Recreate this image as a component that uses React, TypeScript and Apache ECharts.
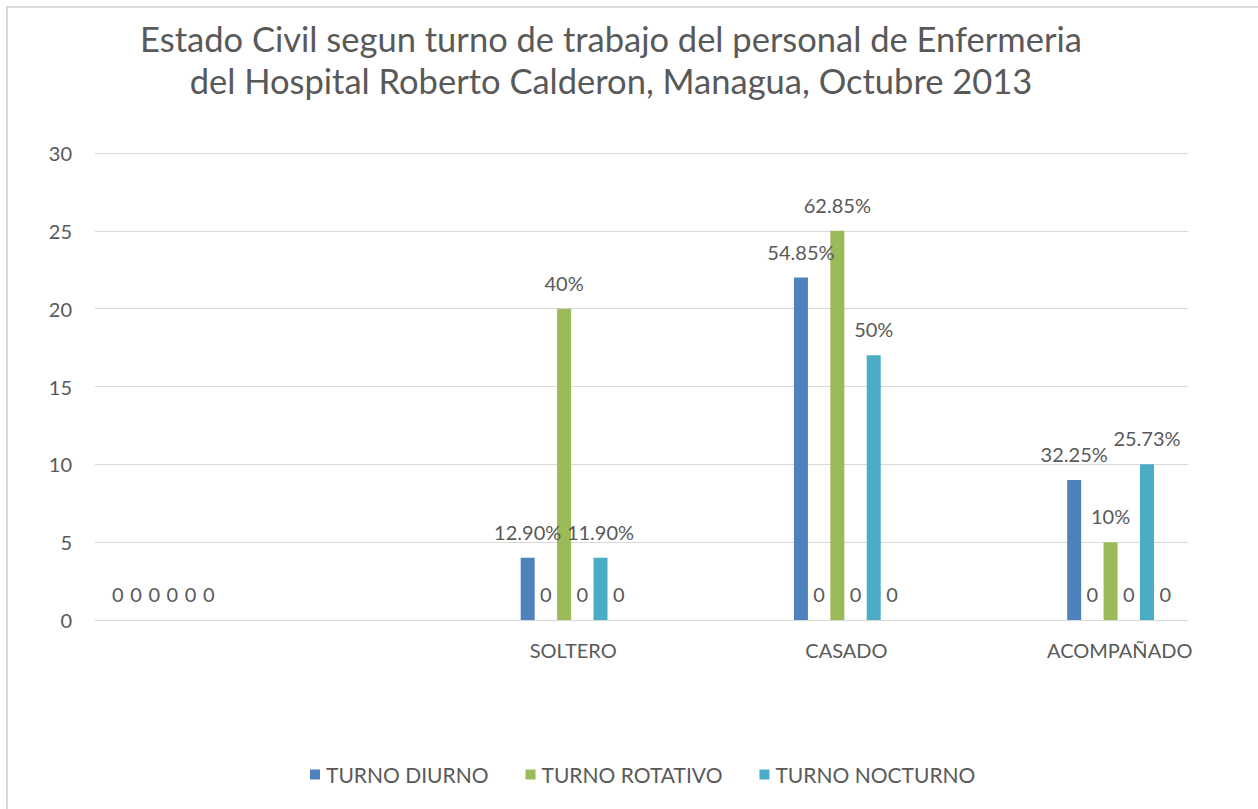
import React, { useEffect, useRef } from "react";
import * as echarts from "echarts";

const titleLines = [
  "Estado Civil segun turno de trabajo del personal de Enfermeria",
  "del Hospital Roberto Calderon, Managua, Octubre 2013",
];
const categories = ["", "SOLTERO", "CASADO", "ACOMPAÑADO"];
const seriesNames = ["TURNO DIURNO", "TURNO ROTATIVO", "TURNO NOCTURNO"];
const diurno = [0, 4, 22, 9];
const diurnoLabels = ["0", "12.90%", "54.85%", "32.25%"];
const rotativo = [0, 20, 25, 5];
const rotativoLabels = ["0", "40%", "62.85%", "10%"];
const nocturno = [0, 4, 17, 10];
const nocturnoLabels = ["0", "11.90%", "50%", "25.73%"];
const pctDiurno = [0, 0, 0, 0];
const pctRotativo = [0, 0, 0, 0];
const pctNocturno = [0, 0, 0, 0];
const yTicks = [0, 5, 10, 15, 20, 25, 30];

// layout: the axis is split into half-width slots; each category occupies one slot
const SLOT_COUNT = 8;
const CATEGORY_SLOT = [0, 3, 5, 7];

const COLORS = ["#4F81BD", "#9BBB59", "#4BACC6"];
const TEXT = "#595959";
const FONT = "Lato, 'Open Sans', sans-serif";

function toSlots<T>(vals: T[]): (T | string)[] {
  const out: (T | string)[] = new Array(SLOT_COUNT).fill("-");
  vals.forEach((v, i) => (out[CATEGORY_SLOT[i]] = v));
  return out;
}

export default function App() {
  const ref = useRef<HTMLDivElement>(null);
  useEffect(() => {
    document.body.style.margin = "0";
    if (!ref.current) return;
    const chart = echarts.init(ref.current, null, { renderer: "svg" });
    const axisData = toSlots(categories).map((c) => (c === "-" ? "" : c));

    const labelStyle = {
      show: true,
      position: "top",
      distance: 16,
      fontSize: 20,
      color: TEXT,
      fontFamily: FONT,
    };

    const visible = (name: string, vals: number[], labels: string[], color: string) => ({
      name,
      type: "bar",
      barWidth: 14,
      barGap: "30%",
      itemStyle: { color },
      label: {
        ...labelStyle,
        formatter: (p: any) => labels[CATEGORY_SLOT.indexOf(p.dataIndex)],
      },
      data: toSlots(vals),
    });
    const hidden = (name: string, vals: number[]) => ({
      name,
      type: "bar",
      barWidth: 14,
      barGap: "30%",
      itemStyle: { color: "transparent" },
      label: { ...labelStyle, formatter: (p: any) => String(p.value) },
      data: toSlots(vals),
    });

    chart.setOption({
      animation: false,
      backgroundColor: "#ffffff",
      graphic: [
        {
          type: "rect",
          shape: { x: 7, y: 7, width: 1300, height: 900 },
          style: { fill: "none", stroke: "#d9d9d9", lineWidth: 2 },
          silent: true,
        },
        {
          type: "text",
          x: 611,
          y: 17,
          style: {
            text: titleLines.join("\n"),
            textAlign: "center",
            fontSize: 34.5,
            lineHeight: 42,
            fontFamily: FONT,
            fill: TEXT,
          },
        },
      ],
      legend: {
        data: seriesNames,
        left: 310,
        top: 764,
        padding: 0,
        itemWidth: 10,
        itemHeight: 10,
        itemGap: 37,
        icon: "rect",
        textStyle: { fontSize: 21, color: TEXT, fontFamily: FONT, padding: [0, 0, 0, 1] },
      },
      grid: { left: 95, right: 70, top: 153, bottom: 189, containLabel: false },
      xAxis: {
        type: "category",
        data: axisData,
        axisLine: { show: true, lineStyle: { color: "#d9d9d9", width: 1 } },
        axisTick: { show: false },
        axisLabel: { interval: 0, fontSize: 20, color: TEXT, fontFamily: FONT, margin: 20 },
      },
      yAxis: {
        type: "value",
        min: yTicks[0],
        max: yTicks[yTicks.length - 1],
        interval: 5,
        axisLine: { show: false },
        axisTick: { show: false },
        splitLine: { lineStyle: { color: "#d9d9d9", width: 1 } },
        axisLabel: { fontSize: 20, color: TEXT, fontFamily: FONT, margin: 23 },
      },
      series: [
        visible(seriesNames[0], diurno, diurnoLabels, COLORS[0]),
        hidden("% DIURNO", pctDiurno),
        visible(seriesNames[1], rotativo, rotativoLabels, COLORS[1]),
        hidden("% ROTATIVO", pctRotativo),
        visible(seriesNames[2], nocturno, nocturnoLabels, COLORS[2]),
        hidden("% NOCTURNO", pctNocturno),
      ],
    });
    return () => chart.dispose();
  }, []);
  return <div ref={ref} style={{ width: 1258, height: 809 }} />;
}
